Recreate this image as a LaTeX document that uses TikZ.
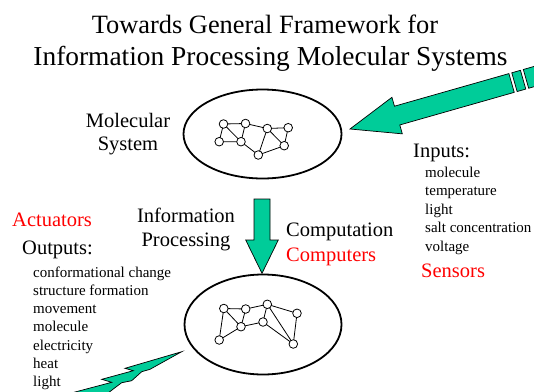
\documentclass[tikz,border=0pt]{standalone}
\usepackage{fontspec}
\setmainfont{Liberation Serif}
\usetikzlibrary{shapes.geometric}
\definecolor{arrgreen}{RGB}{0,204,153}
\definecolor{txtred}{RGB}{255,0,0}
\begin{document}
\begin{tikzpicture}[x=1pt,y=-1pt,
  titletext/.style={inner sep=0pt},
  bigtext/.style={font=\fontsize{20.5}{24}\selectfont, inner sep=0pt},
  smalltext/.style={font=\fontsize{15}{18}\selectfont, inner sep=0pt, anchor=base west},
  blob/.style={ellipse, draw, line width=1.8pt, inner sep=0pt},
  atom/.style={circle, draw, fill=white, minimum size=8.6pt, inner sep=0pt, line width=0.8pt},
  bond/.style={line width=0.8pt},
  greenshape/.style={fill=arrgreen, draw=black, line width=0.7pt, line join=miter}]
\useasboundingbox (0,0) rectangle (534,391);

% titles
\node[titletext, font=\fontsize{26.4}{30}\selectfont, anchor=base] (t1) at (265,33) {Towards General Framework for};
\node[titletext, font=\fontsize{27.4}{30}\selectfont, anchor=base] (t2) at (270.5,65) {Information Processing Molecular Systems};

% ellipses
\node[blob, minimum width=158pt, minimum height=89pt] (top) at (262.5,134) {};
\node[blob, minimum width=157pt, minimum height=100pt] (bot) at (263,324.5) {};

% top network
\begin{scope}
\coordinate (A) at (223.5,124);
\coordinate (B) at (245.5,123.5);
\coordinate (C) at (267.3,128.5);
\coordinate (D) at (288.2,127.7);
\coordinate (E) at (219.2,141.7);
\coordinate (F) at (241,141.7);
\coordinate (G) at (258.3,155);
\coordinate (H) at (284.2,145.7);
\draw[bond] (A)--(B) (A)--(F) (A)--(E) (E)--(F) (B)--(F) (B)--(C) (C)--(D)
  (C)--(G) (C)--(H) (D)--(H) (F)--(G) (G)--(H);
\foreach \n in {A,B,C,D,E,F,G,H} \node[atom] (n\n) at (\n) {};
\end{scope}

% bottom network
\begin{scope}
\coordinate (a) at (223.8,308.5);
\coordinate (b) at (245.7,309);
\coordinate (c) at (267.3,304.3);
\coordinate (d) at (297,313.3);
\coordinate (e) at (219.2,340);
\coordinate (f) at (241,326.7);
\coordinate (g) at (263,322);
\coordinate (h) at (293.3,344);
\draw[bond] (a)--(b) (a)--(e) (a)--(f) (e)--(f) (b)--(f) (b)--(c) (c)--(d)
  (c)--(g) (c)--(h) (d)--(h) (f)--(g) (g)--(h);
\foreach \n in {a,b,c,d,e,f,g,h} \node[atom] (m\n) at (\n) {};
\end{scope}

% big input arrow
\begin{scope}[shift={(350,129)}, rotate=15.9]
\draw[greenshape] (0,0) -- (49,-19) -- (49,-9.75) -- (168,-9.75) -- (168,9.75)
  -- (49,9.75) -- (49,19) -- cycle;
\draw[greenshape] (171,-9.75) rectangle (180,9.75);
\draw[greenshape] (183,-9.75) rectangle (205,9.75);
\end{scope}

% down arrow
\draw[greenshape] (254,199) -- (270,199) -- (270,240) -- (278.3,240) -- (262,273.3)
  -- (245.7,240) -- (254,240) -- cycle;

% lightning bolt
\draw[greenshape] (181.7,351.7) -- (125,368.3) -- (133.3,370.7) -- (101.7,379.3)
  -- (111.7,382.3) -- (60,396) -- (104,396) -- (121.7,382.7) -- (131.7,380.7)
  -- (141.7,371.7) -- (150,369.3) -- cycle;

% labels
\node[bigtext, anchor=base] (mol1) at (128,127) {Molecular};
\node[bigtext, anchor=base] (mol2) at (128,150) {System};
\node[bigtext, anchor=base] (ip1) at (186,222) {Information};
\node[bigtext, anchor=base] (ip2) at (186,246) {Processing};
\node[bigtext, anchor=base west] (comp) at (286,236) {Computation};
\node[bigtext, anchor=base west, text=txtred] (cmps) at (286,261) {Computers};
\node[bigtext, anchor=base west] (inp) at (413,157) {Inputs:};
\node[smalltext] (i1) at (425,177) {molecule};
\node[smalltext] (i2) at (425,195.5) {temperature};
\node[smalltext] (i3) at (425,214) {light};
\node[smalltext] (i4) at (425,232.5) {salt concentration};
\node[smalltext] (i5) at (425,251) {voltage};
\node[bigtext, anchor=base west, text=txtred] (sens) at (421,277) {Sensors};
\node[bigtext, anchor=base west, text=txtred] (act) at (12,226) {Actuators};
\node[bigtext, anchor=base west] (outp) at (22,254) {Outputs:};
\node[smalltext] (o1) at (33,277) {conformational change};
\node[smalltext] (o2) at (33,295.3) {structure formation};
\node[smalltext] (o3) at (33,313.6) {movement};
\node[smalltext] (o4) at (33,331.9) {molecule};
\node[smalltext] (o5) at (33,350.2) {electricity};
\node[smalltext] (o6) at (33,368.5) {heat};
\node[smalltext] (o7) at (33,386.8) {light};
\end{tikzpicture}
\end{document}
